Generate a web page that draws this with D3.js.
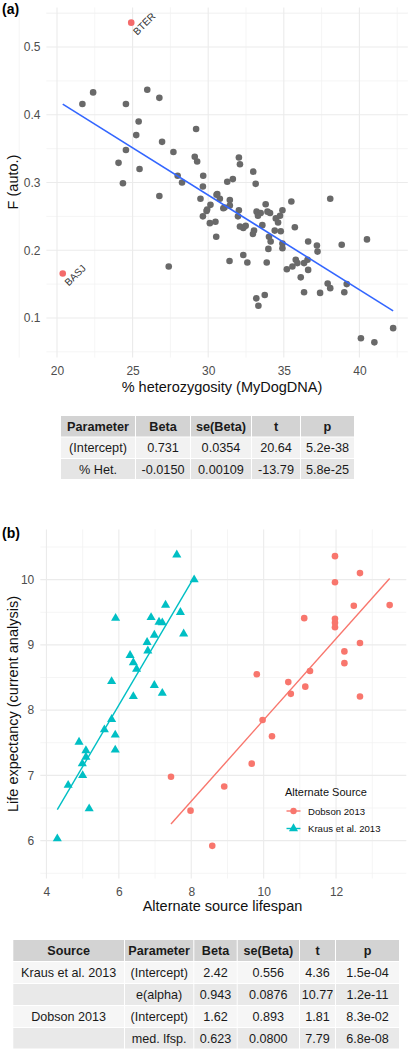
<!DOCTYPE html>
<html><head><meta charset="utf-8">
<script src="https://cdn.jsdelivr.net/npm/d3@7"></script>
<style>body{margin:0;background:#fff}svg{display:block;font-family:"Liberation Sans",Arial,sans-serif}</style>
</head><body><svg id="c" width="409" height="1050"></svg>
<script>
// ---------- Panel (a) data ----------
const hetX = [21.68,22.39,24.56,25.97,26.77,25.4,29.2,25.24,26.95,24.56,27.7,29.11,29.27,24.07,25.46,27.98,28.27,29.67,24.36,29.65,26.77,29.49,29.65,27.39,
32.03,32.1,32.98,31.26,31.63,33.14,30.6,30.77,31.43,35.5,38.07,
30.15,29.89,31.08,31.43,32.03,31.97,32.1,32.32,32.48,33.03,32.96,33.8,33.2,33.47,33.92,34.09,33.58,34.47,34.75,34.91,34.62,34.4,34.8,34.02,34.13,33.98,34.91,34.91,35.73,36.61,37.19,37.23,38.83,40.5,
30.48,30.11,30.53,31.41,32.32,32.59,33.87,35.2,35.57,35.79,35.9,36.34,36.57,36.61,36.12,36.34,37.4,37.9,38.07,39.16,39.0,33.18,33.74,33.32,40.1,40.99,42.23,
29.93,31.0,33.29,30.55];
const fAuto = [0.416,0.433,0.416,0.437,0.425,0.39,0.379,0.37,0.36,0.348,0.345,0.338,0.331,0.329,0.32,0.31,0.30,0.31,0.299,0.294,0.28,0.276,0.25,0.176,
0.337,0.327,0.316,0.301,0.305,0.298,0.283,0.276,0.274,0.272,0.276,
0.267,0.258,0.263,0.266,0.259,0.25,0.235,0.233,0.236,0.229,0.224,0.268,0.257,0.255,0.257,0.255,0.237,0.247,0.251,0.259,0.241,0.229,0.228,0.22,0.213,0.202,0.21,0.203,0.234,0.213,0.207,0.198,0.208,0.216,
0.242,0.24,0.22,0.184,0.193,0.182,0.182,0.172,0.176,0.186,0.181,0.181,0.186,0.171,0.16,0.138,0.137,0.151,0.144,0.15,0.138,0.129,0.134,0.118,0.07,0.064,0.085,
0.26,0.262,0.251,0.282];
const outlierNames = ["BTER","BASJ"];
const outlierX = [24.91,20.38];
const outlierF = [0.536,0.1656];
const xTicksA = [20,25,30,35,40];
const yTicksA = [0.1,0.2,0.3,0.4,0.5];

// ---------- Panel (b) data ----------
const krausX = [7.6,8.08,5.91,6.89,7.29,7.11,7.2,7.7,7.79,6.98,6.78,6.8,6.31,6.4,6.49,5.8,6.98,7.2,6.4,5.8,5.6,5.9,5.9,4.9,5.09,5.09,4.99,5.0,4.6,5.18,4.3];
const krausY = [10.38,10.0,9.41,9.42,9.61,9.35,9.34,9.5,9.17,9.15,9.04,8.91,8.84,8.73,8.63,8.44,8.38,8.26,8.21,7.86,7.7,7.62,7.39,7.51,7.38,7.28,7.18,7.0,6.85,6.49,6.03];
const dobsonX = [11.97,12.66,11.97,12.49,13.48,11.12,11.97,11.97,11.97,12.66,12.23,12.23,12.66,9.81,10.68,10.75,11.28,11.15,9.97,10.23,9.67,8.91,8.58,7.44,7.98];
const dobsonY = [10.36,10.1,9.96,9.6,9.61,9.41,9.4,9.34,9.27,9.03,8.9,8.72,8.21,8.55,8.43,8.25,8.6,8.36,7.85,7.6,7.18,6.83,5.92,6.98,6.46];
const krausCoef = [2.42,0.943];
const dobsonCoef = [1.62,0.623];
const sourceNames = ["Dobson 2013","Kraus et al. 2013"];
const xTicksB = [4,6,8,10,12];
const yTicksB = [6,7,8,9,10];

// ---------- Tables ----------
const tableAHeader = ["Parameter","Beta","se(Beta)","t","p"];
const tableARows = [["(Intercept)","0.731","0.0354","20.64","5.2e-38"],["% Het.","-0.0150","0.00109","-13.79","5.8e-25"]];
const tableBHeader = ["Source","Parameter","Beta","se(Beta)","t","p"];
const tableBRows = [["Kraus et al. 2013","(Intercept)","2.42","0.556","4.36","1.5e-04"],["","e(alpha)","0.943","0.0876","10.77","1.2e-11"],["Dobson 2013","(Intercept)","1.62","0.893","1.81","8.3e-02"],["","med. lfsp.","0.623","0.0800","7.79","6.8e-08"]];

const svg = d3.select("#c");
const GRID = "#ebebeb", GRIDMIN = "#f3f3f3";

function grid(g, x, y, xMaj, xMin, yMaj, yMin) {
  const [x0,x1] = x.range(), [y1,y0] = y.range();
  g.selectAll(".vmin").data(xMin).join("line").attr("x1",d=>x(d)).attr("x2",d=>x(d)).attr("y1",y0).attr("y2",y1).attr("stroke",GRIDMIN).attr("stroke-width",0.8);
  g.selectAll(".hmin").data(yMin).join("line").attr("y1",d=>y(d)).attr("y2",d=>y(d)).attr("x1",x0).attr("x2",x1).attr("stroke",GRIDMIN).attr("stroke-width",0.8);
  g.selectAll(".vmaj").data(xMaj).join("line").attr("x1",d=>x(d)).attr("x2",d=>x(d)).attr("y1",y0).attr("y2",y1).attr("stroke",GRID).attr("stroke-width",1.1);
  g.selectAll(".hmaj").data(yMaj).join("line").attr("y1",d=>y(d)).attr("y2",d=>y(d)).attr("x1",x0).attr("x2",x1).attr("stroke",GRID).attr("stroke-width",1.1);
}
function axes(x, y, xT, yT, fmtX, fmtY) {
  const [y1] = y.range(), [x0] = x.range();
  const ax = svg.append("g").attr("transform",`translate(0,${y1})`)
    .call(d3.axisBottom(x).tickValues(xT).tickSize(0).tickPadding(9).tickFormat(fmtX));
  const ay = svg.append("g").attr("transform",`translate(${x0},0)`)
    .call(d3.axisLeft(y).tickValues(yT).tickSize(0).tickPadding(6).tickFormat(fmtY));
  [ax,ay].forEach(a=>{a.select(".domain").remove();a.selectAll("text").attr("font-size",12).attr("fill","#4d4d4d").attr("font-family","Liberation Sans, Arial, sans-serif");});
}
function mids(t){const r=[];for(let i=0;i<t.length;i++){r.push(t[i]-(t[1]-t[0])/2);}r.push(t[t.length-1]+(t[1]-t[0])/2);return r;}

// ---------- Panel (a) ----------
const xA = d3.scaleLinear().domain([19.3,43.2]).range([46.4,407.8]);
const yA = d3.scaleLinear().domain([0.0415,0.5585]).range([357.6,7.4]);
grid(svg.append("g"), xA, yA, xTicksA, mids(xTicksA), yTicksA, mids(yTicksA).concat([0.55]));
axes(xA, yA, xTicksA, yTicksA, d3.format("d"), d3.format(".1f"));

const gA = svg.append("g");
gA.selectAll("circle.g").data(hetX.map((v,i)=>[v,fAuto[i]])).join("circle")
  .attr("cx",d=>xA(d[0])).attr("cy",d=>yA(d[1])).attr("r",3.3).attr("fill","#696969");
// regression line fit on all points
const allX = hetX.concat(outlierX), allY = fAuto.concat(outlierF);
const mx = d3.mean(allX), my = d3.mean(allY);
const slope = d3.sum(allX.map((v,i)=>(v-mx)*(allY[i]-my)))/d3.sum(allX.map(v=>(v-mx)**2));
const icpt = my - slope*mx;
const [ex0,ex1] = d3.extent(allX);
gA.append("path").attr("d",d3.line()([[xA(ex0),yA(icpt+slope*ex0)],[xA(ex1),yA(icpt+slope*ex1)]]))
  .attr("stroke","#3366FF").attr("stroke-width",1.6).attr("fill","none");
gA.selectAll("circle.o").data(outlierNames.map((n,i)=>({n,x:outlierX[i],y:outlierF[i]}))).join("circle")
  .attr("cx",d=>xA(d.x)).attr("cy",d=>yA(d.y)).attr("r",3.3).attr("fill","#F46A6A");
gA.selectAll("text.o").data(outlierNames.map((n,i)=>({n,x:outlierX[i],y:outlierF[i]}))).join("text")
  .attr("transform",d=>`translate(${xA(d.x)+6},${yA(d.y)+13}) rotate(-45)`)
  .attr("font-size",10).attr("fill","#333").text(d=>d.n);

svg.append("text").attr("x",2).attr("y",14).attr("font-size",14).attr("font-weight","bold").text("(a)");
svg.append("text").attr("x",222).attr("y",392).attr("text-anchor","middle").attr("font-size",14.5).attr("fill","#111").text("% heterozygosity (MyDogDNA)");
svg.append("text").attr("transform",`translate(18,182) rotate(-90)`).attr("text-anchor","middle").attr("font-size",14.5).attr("fill","#111").text("F (auto.)");

// ---------- Table helper ----------
function table(x0s, x1s, rowsY, header, rows, colors, fs) {
  const g = svg.append("g").attr("font-size",fs);
  const all = [header].concat(rows);
  all.forEach((r,ri)=>{
    const [ya,yb] = rowsY[ri];
    r.forEach((cell,ci)=>{
      g.append("rect").attr("x",x0s[ci]).attr("y",ya).attr("width",x1s[ci]-x0s[ci]).attr("height",yb-ya).attr("fill",colors[ri]);
      g.append("text").attr("x",(x0s[ci]+x1s[ci])/2).attr("y",(ya+yb)/2+fs*0.36).attr("text-anchor","middle")
        .attr("font-weight",ri===0?"bold":"normal").attr("fill","#1a1a1a").text(cell);
    });
  });
}
table([61,136,191,252,301],[135,190,251,300,354],[[416,436.5],[437.5,458],[459,479]],tableAHeader,tableARows,["#d3d3d3","#f2f2f2","#e5e5e5"],12.7);

// ---------- Panel (b) ----------
const xB = d3.scaleLinear().domain([3.83,13.94]).range([40.3,406.3]);
const yB = d3.scaleLinear().domain([5.42,10.77]).range([878.5,529.4]);
grid(svg.append("g"), xB, yB, xTicksB, [5,7,9,11,13], yTicksB, [5.5,6.5,7.5,8.5,9.5,10.5]);
axes(xB, yB, xTicksB, yTicksB, d3.format("d"), d3.format("d"));

const gB = svg.append("g");
const lineB = (coef, xs) => { const [a,b]=d3.extent(xs); return d3.line()([[xB(a),yB(coef[0]+coef[1]*a)],[xB(b),yB(coef[0]+coef[1]*b)]]); };
const COL_D = "#F8766D", COL_K = "#00BFC4";
gB.selectAll("circle").data(dobsonX.map((v,i)=>[v,dobsonY[i]])).join("circle")
  .attr("cx",d=>xB(d[0])).attr("cy",d=>yB(d[1])).attr("r",3.3).attr("fill",COL_D);
const tri = d3.symbol(d3.symbolTriangle, 36);
gB.selectAll("path.k").data(krausX.map((v,i)=>[v,krausY[i]])).join("path")
  .attr("d",tri).attr("transform",d=>`translate(${xB(d[0])},${yB(d[1])})`).attr("fill",COL_K);
gB.append("path").attr("d",lineB(dobsonCoef,dobsonX)).attr("stroke",COL_D).attr("stroke-width",1.4).attr("fill","none");
gB.append("path").attr("d",lineB(krausCoef,krausX)).attr("stroke",COL_K).attr("stroke-width",1.4).attr("fill","none");

// legend
const lg = svg.append("g");
lg.append("text").attr("x",285).attr("y",795.5).attr("font-size",11).attr("fill","#111").text("Alternate Source");
[COL_D,COL_K].forEach((c,i)=>{
  const yy = 811 + i*17.5;
  lg.append("line").attr("x1",286.5).attr("x2",300.5).attr("y1",yy).attr("y2",yy).attr("stroke",c).attr("stroke-width",1.4);
  if(i===0) lg.append("circle").attr("cx",293.5).attr("cy",yy).attr("r",3.2).attr("fill",c);
  else lg.append("path").attr("d",tri).attr("transform",`translate(293.5,${yy})`).attr("fill",c);
  lg.append("text").attr("x",308).attr("y",yy+3.6).attr("font-size",9.6).attr("fill","#111").text(sourceNames[i]);
});

svg.append("text").attr("x",2).attr("y",538).attr("font-size",14).attr("font-weight","bold").text("(b)");
svg.append("text").attr("x",222.5).attr("y",911).attr("text-anchor","middle").attr("font-size",14.5).attr("fill","#111").text("Alternate source lifespan");
svg.append("text").attr("transform",`translate(18,704) rotate(-90)`).attr("text-anchor","middle").attr("font-size",14.5).attr("fill","#111").text("Life expectancy (current analysis)");

table([13.3,125,194.3,237.7,300,336],[124,193.3,236.7,299,335,399],[[940,961],[962,983],[984,1005],[1006,1027],[1028,1048.5]],tableBHeader,tableBRows,["#d3d3d3","#f6f6f6","#e9e9e9","#f6f6f6","#e9e9e9"],12.6);
</script></body></html>
